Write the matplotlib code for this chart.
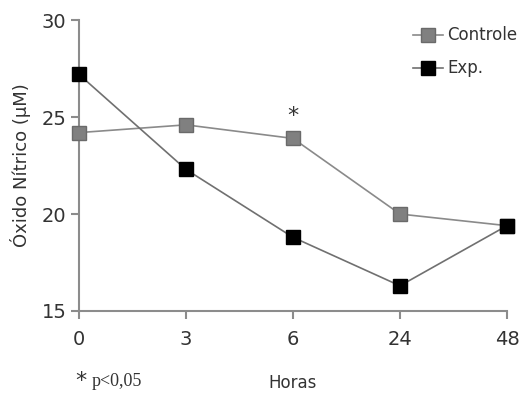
import numpy as np
import matplotlib.pyplot as plt

horas = ["0", "3", "6", "24", "48"]
controle = [24.2, 24.6, 23.9, 20.0, 19.4]
exp = [27.2, 22.3, 18.8, 16.3, 19.4]

plt.rcParams['font.family'] = ['DejaVu Sans']

fig = plt.figure(figsize=(5.32, 3.95), dpi=100)
ax = fig.add_axes([0.1485, 0.2127, 0.8045, 0.7363])

x = np.arange(len(horas))
ax.plot(x, controle, color='#8a8a8a', lw=1.2, marker='s', ms=9.5,
        mfc='#808080', mec='#6a6a6a', label='Controle', clip_on=False, zorder=3)
ax.plot(x, exp, color='#707070', lw=1.2, marker='s', ms=9.5,
        mfc='black', mec='black', label='Exp.', clip_on=False, zorder=4)

ax.set_xlim(0, 4)
ax.set_ylim(15, 30)
ax.set_xticks(x)
ax.set_xticklabels(horas)
ax.set_yticks([15, 20, 25, 30])

for s in ['top', 'right']:
    ax.spines[s].set_visible(False)
for s in ['left', 'bottom']:
    ax.spines[s].set_color('#8c8c8c')
    ax.spines[s].set_linewidth(1.5)
ax.tick_params(color='#8c8c8c', width=1.5, length=6, labelsize=14,
               labelcolor='#333333')
ax.tick_params(axis='x', pad=8)
ax.tick_params(axis='y', pad=3)

ax.set_ylabel('Óxido Nítrico (μM)', fontsize=13, color='#333333', labelpad=8)
ax.set_xlabel('Horas', fontsize=12, color='#333333', labelpad=18)

ax.text(2, 24.55, '*', ha='center', va='bottom', fontsize=16, color='#333333')
fig.text(0.142, 0.01, '*', fontsize=16, color='#333333', ha='left', va='bottom')
fig.text(0.173, 0.012, 'p<0,05', fontsize=13, family='Liberation Serif',
         color='#333333', ha='left', va='bottom')

ax.legend(loc='upper right', bbox_to_anchor=(1.06, 1.03), frameon=False,
          fontsize=12, handlelength=1.8, handletextpad=0.3, labelspacing=0.9,
          labelcolor='#333333')

fig.savefig('out.png', dpi=100)
